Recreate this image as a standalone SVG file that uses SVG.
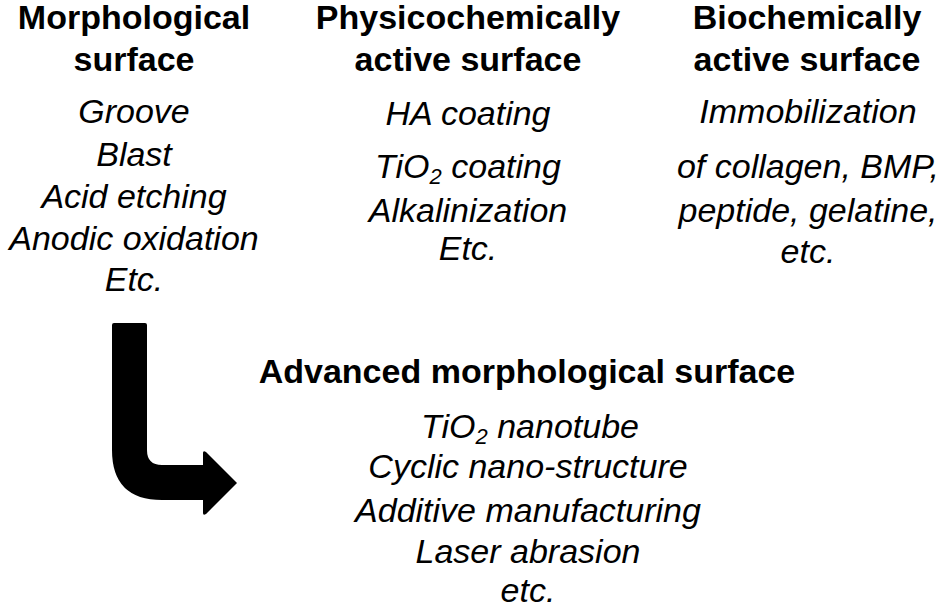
<svg xmlns="http://www.w3.org/2000/svg" width="945" height="610" viewBox="0 0 945 610">
<style>
text{font-family:"Liberation Sans",Arial,sans-serif;font-size:34px;fill:#000;text-anchor:middle}
.h{font-weight:bold}
.i{font-style:italic}
.sub{font-size:22px}
</style>
<rect width="945" height="610" fill="#fff"/>
<g id="morphological">
<text class="h" x="134" y="29">Morphological</text>
<text class="h" x="134" y="71">surface</text>
<text class="i" x="134" y="123">Groove</text>
<text class="i" x="134" y="166">Blast</text>
<text class="i" x="134" y="208">Acid etching</text>
<text class="i" x="134" y="250">Anodic oxidation</text>
<text class="i" x="134" y="291">Etc.</text>
</g>
<g id="physicochemical">
<text class="h" x="468" y="29">Physicochemically</text>
<text class="h" x="468" y="71">active surface</text>
<text class="i" x="468" y="125">HA coating</text>
<text class="i" x="468" y="178">TiO<tspan class="sub" dy="6">2</tspan><tspan dy="-6"> coating</tspan></text>
<text class="i" x="468" y="222">Alkalinization</text>
<text class="i" x="468" y="260">Etc.</text>
</g>
<g id="biochemical">
<text class="h" x="807" y="29">Biochemically</text>
<text class="h" x="807" y="71">active surface</text>
<text class="i" x="808" y="123">Immobilization</text>
<text class="i" x="808" y="178">of collagen, BMP,</text>
<text class="i" x="808" y="222">peptide, gelatine,</text>
<text class="i" x="808" y="263">etc.</text>
</g>
<g id="advanced">
<text class="h" x="527" y="383">Advanced morphological surface</text>
<text class="i" x="530" y="438">TiO<tspan class="sub" dy="6">2</tspan><tspan dy="-6"> nanotube</tspan></text>
<text class="i" x="528" y="478">Cyclic nano-structure</text>
<text class="i" x="528" y="522">Additive manufacturing</text>
<text class="i" x="528" y="563">Laser abrasion</text>
<text class="i" x="528" y="602">etc.</text>
</g>
<g id="connectors">
<path d="M114,323 L145,323 Q147,323 147,325 L147,450 Q147,465 162,465 L203,465 L203,453 Q203,450 206,452 L237,483 L206,514 Q203,516 203,513 L203,500 L162,500 Q112,500 112,450 L112,325 Q112,323 114,323 Z" fill="#000"/>
</g>
</svg>
